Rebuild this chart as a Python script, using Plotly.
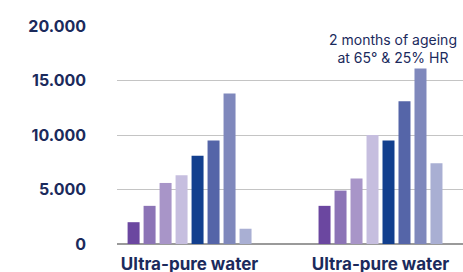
import plotly.graph_objects as go

categories = ["Ultra-pure water", "Ultra-pure water"]
series_1 = [2000, 3500]
series_2 = [3500, 4900]
series_3 = [5600, 6000]
series_4 = [6300, 10000]
series_5 = [8100, 9500]
series_6 = [9500, 13100]
series_7 = [13800, 16100]
series_8 = [1400, 7400]
series = [series_1, series_2, series_3, series_4, series_5, series_6, series_7, series_8]
colors = ["#6b47a0", "#8c74b6", "#a895c8", "#c6bedf",
          "#123f8e", "#5565a8", "#7f88bc", "#a9afd3"]
y_ticks = [0, 5000, 10000, 15000, 20000]
note = "2 months of ageing<br>at 65° & 25% HR"

navy = "#1b2a5c"
x_pos = list(range(len(categories)))

fig = go.Figure()
for vals, c in zip(series, colors):
    fig.add_trace(go.Bar(x=x_pos, y=vals, marker=dict(color=c, line=dict(width=0)),
                         showlegend=False, hoverinfo="y"))

fig.add_annotation(x=1.065, y=17950, xref="x", yref="y", text=note, showarrow=False,
                   font=dict(family="Inter", size=14, color=navy), align="center",
                   yanchor="middle", xanchor="center")

fig.update_layout(
    width=463, height=272,
    margin=dict(l=117, r=0, t=26, b=28, pad=0, autoexpand=False),
    barmode="group", bargap=0.33, bargroupgap=0.25,
    plot_bgcolor="white", paper_bgcolor="white",
    separators=",.",
    font=dict(family="Inter", color=navy),
)
fig.update_xaxes(range=[-0.38, 1.432], tickvals=x_pos, ticktext=categories,
                 tickfont=dict(family="Inter", size=17, color=navy, weight="bold"),
                 showgrid=False, zeroline=False, showline=False, ticks="",
                 ticklabelstandoff=8, fixedrange=True, automargin=False)
fig.update_yaxes(range=[0, 20000], tickvals=y_ticks, tickformat=",d",
                 tickfont=dict(family="Inter", size=16, color=navy, weight="bold"),
                 showgrid=True, gridcolor="#c4c4c4", gridwidth=1,
                 zeroline=True, zerolinecolor="#9a9a9a", zerolinewidth=1.5,
                 showline=False, ticks="", ticklabelstandoff=30, fixedrange=True,
                 automargin=False)

fig.write_html("out.html", config={"displayModeBar": False},
               post_script="document.body.style.margin='0';document.body.style.overflow='hidden';")
